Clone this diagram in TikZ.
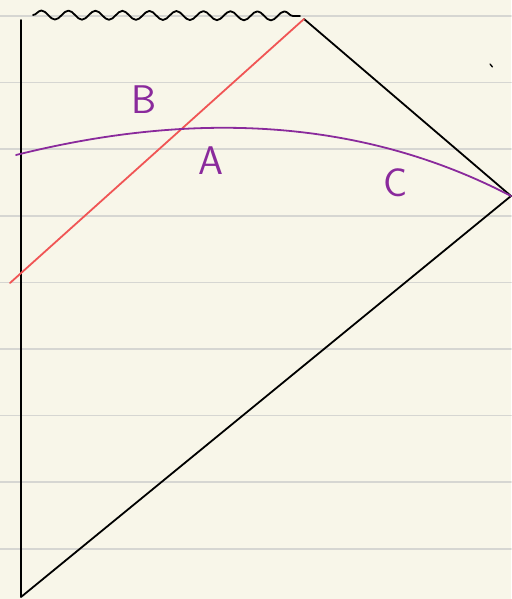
\documentclass[tikz,border=0pt]{standalone}
\usepackage{tikz}
\usetikzlibrary{positioning,decorations.pathmorphing}
\definecolor{paper}{HTML}{F8F6E9}
\definecolor{rule}{HTML}{D6D6D2}
\definecolor{pen}{HTML}{8A2A9C}
\definecolor{redpen}{HTML}{F05555}
\begin{document}
\begin{tikzpicture}[x=1pt,y=-1pt,line cap=round,line join=round,
ink/.style={draw=black,line width=1.8pt},
sing/.style={ink,decorate,decoration={snake,segment length=27pt,amplitude=4.5pt}},
slice/.style={draw=pen,line width=1.8pt},
ray/.style={draw=redpen,line width=1.8pt},
lbl/.style={text=pen,font=\sffamily\fontsize{40}{40}\selectfont,inner sep=0pt}]
% paper
\fill[paper] (0,0) rectangle (511,599);
\useasboundingbox (0,0) rectangle (511,599);
\foreach \k in {0,...,8}
  \draw[rule,line width=1.6pt] (0,{16+66.6*\k}) -- (511,{16+66.6*\k});
% diagram corners
\coordinate (origin) at (21,597);
\coordinate (axistop) at (21,20);
\coordinate (top) at (304,19);
\coordinate (infty) at (511,196);
\coordinate (wavel) at (33,15);
\coordinate (waver) at (300,16);
\coordinate (rayl) at (10,283);
\coordinate (slicel) at (16,155);
\draw[ink] (axistop) -- (origin) -- (infty) -- (top);
\draw[sing] (wavel) -- (waver);
\draw[ray] (rayl) -- (top);
\draw[slice] (slicel) .. controls (204,108) and (369,122) .. (infty);
\draw[ink,line width=1.3pt] (490,64) -- (492.5,67);
% regions
\node[lbl] (regB) at (144,100) {B};
\node[lbl] (regA) at (211,161) {A};
\node[lbl] (regC) at (396,183) {C};
\end{tikzpicture}
\end{document}
